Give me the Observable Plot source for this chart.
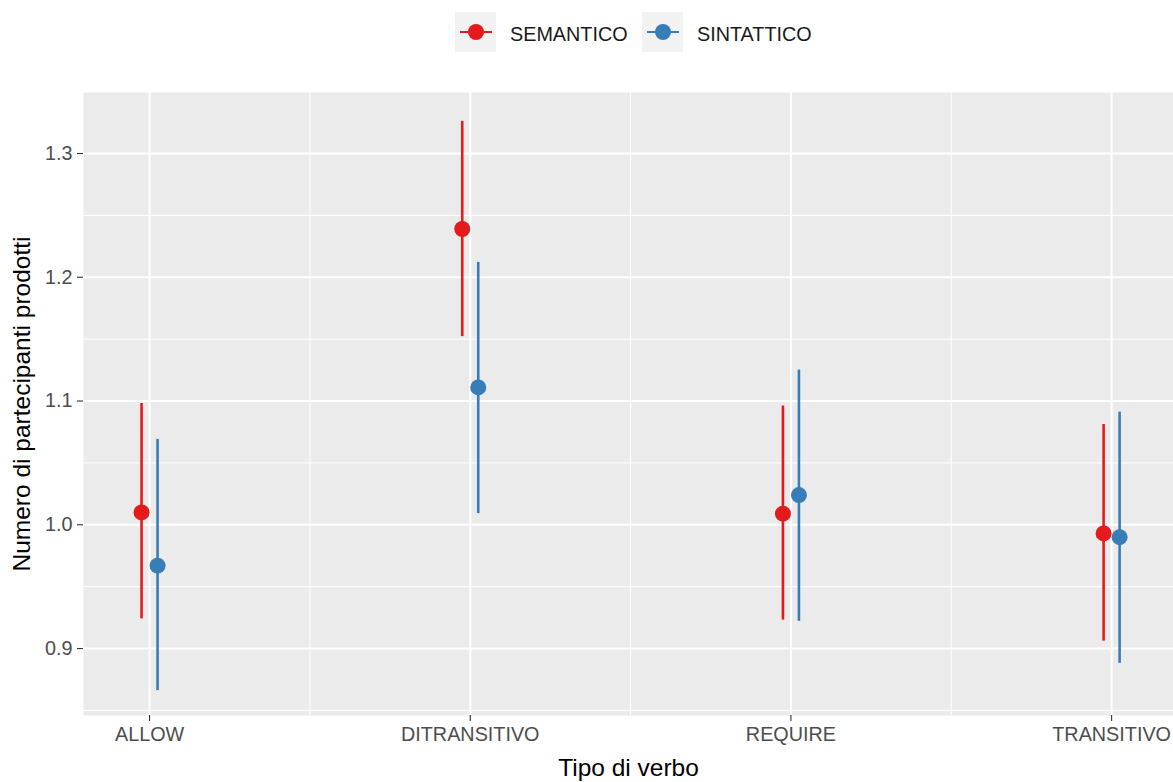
<!DOCTYPE html>
<html>
<head>
<meta charset="utf-8">
<script src="https://cdn.jsdelivr.net/npm/d3@7"></script>
<script src="https://cdn.jsdelivr.net/npm/@observablehq/plot@0.6"></script>
<style>
  html, body { margin: 0; padding: 0; background: white; }
  body { width: 1173px; height: 782px; overflow: hidden; font-family: "Liberation Sans", Arial, sans-serif; }
  #legend { position: relative; height: 70px; }
  .item { position: absolute; top: 12px; height: 40px; display: flex; align-items: center; }
  .key { width: 41px; height: 40px; background: #F2F2F2; position: relative; }
  .key .ln { position: absolute; left: 5px; right: 4px; top: 18.7px; height: 2.6px; }
  .key .pt { position: absolute; left: 12.5px; top: 12px; width: 16px; height: 16px; border-radius: 50%; }
  .lab { font-size: 19.8px; color: #1A1A1A; margin-left: 14px; padding-top: 4px; }
</style>
</head>
<body>
<div id="legend"></div>
<div id="chart"></div>
<script>
const categories = ["ALLOW", "DITRANSITIVO", "REQUIRE", "TRANSITIVO"];
const groups = ["SEMANTICO", "SINTATTICO"];
const colors = ["#E41A1C", "#377EB8"];

const semMean = [1.010, 1.239, 1.009, 0.993];
const semLow  = [0.924, 1.152, 0.923, 0.906];
const semHigh = [1.098, 1.326, 1.096, 1.081];

const sinMean = [0.967, 1.111, 1.024, 0.990];
const sinLow  = [0.866, 1.009, 0.922, 0.888];
const sinHigh = [1.069, 1.212, 1.125, 1.091];

const yTicks = [0.9, 1.0, 1.1, 1.2, 1.3];
const yMinor = [0.85, 0.95, 1.05, 1.15, 1.25];
const xMinor = [0.5, 1.5, 2.5];

const xLabel = "Tipo di verbo";
const yLabel = "Numero di partecipanti prodotti";

const series = [
  {group: groups[0], mean: semMean, low: semLow, high: semHigh},
  {group: groups[1], mean: sinMean, low: sinLow, high: sinHigh}
];
const rows = series.flatMap(s => categories.map((c, i) => ({
  cat: c, xi: i, group: s.group, mean: s.mean[i], low: s.low[i], high: s.high[i]
})));

// Legend (HTML)
const legend = document.getElementById("legend");
const lefts = [455, 642];
groups.forEach((g, i) => {
  const item = document.createElement("div");
  item.className = "item";
  item.style.left = lefts[i] + "px";
  item.innerHTML = `<div class="key"><div class="ln" style="background:${colors[i]}"></div><div class="pt" style="background:${colors[i]}"></div></div><div class="lab">${g}</div>`;
  legend.appendChild(item);
});

const dodge = [-8, 8];
const groupMarks = groups.flatMap((g, i) => {
  const d = rows.filter(r => r.group === g);
  return [
    Plot.ruleX(d, {x: "xi", y1: "low", y2: "high", stroke: "group", strokeWidth: 2.6, dx: dodge[i]}),
    Plot.dot(d, {x: "xi", y: "mean", r: 8, fill: "group", stroke: "none", dx: dodge[i]})
  ];
});

const chart = Plot.plot({
  width: 1173,
  height: 712,
  marginTop: 22,
  marginBottom: 67,
  marginLeft: 83,
  marginRight: 0,
  style: {fontFamily: "'Liberation Sans', Arial, sans-serif", background: "white"},
  x: {type: "linear", domain: [-0.206, 3.193], axis: null},
  y: {domain: [0.8459, 1.3493], axis: null},
  color: {domain: groups, range: colors},
  marks: [
    Plot.frame({fill: "#EBEBEB", stroke: null}),
    Plot.ruleY(yMinor, {stroke: "white", strokeWidth: 1}),
    Plot.ruleX(xMinor, {stroke: "white", strokeWidth: 1}),
    Plot.ruleY(yTicks, {stroke: "white", strokeWidth: 2}),
    Plot.ruleX(d3.range(categories.length), {stroke: "white", strokeWidth: 2}),
    Plot.axisY({ticks: yTicks, tickFormat: d3.format(".1f"), tickSize: 6, tickPadding: 5, fontSize: 19.8, stroke: "#333333", fill: "#4D4D4D", strokeWidth: 1.1, label: null}),
    Plot.axisX({ticks: d3.range(categories.length), tickFormat: i => categories[i], tickSize: 6, tickPadding: 5, fontSize: 19.8, stroke: "#333333", fill: "#4D4D4D", strokeWidth: 1.1, label: null}),
    ...groupMarks,
    Plot.text([yLabel], {frameAnchor: "left", rotate: -90, dx: -61, textAnchor: "middle", lineAnchor: "middle", fontSize: 24.5, fill: "black"}),
    Plot.text([xLabel], {frameAnchor: "bottom", dy: 53, textAnchor: "middle", lineAnchor: "middle", fontSize: 24.5, fill: "black"})
  ]
});
document.getElementById("chart").appendChild(chart);
</script>
</body>
</html>
